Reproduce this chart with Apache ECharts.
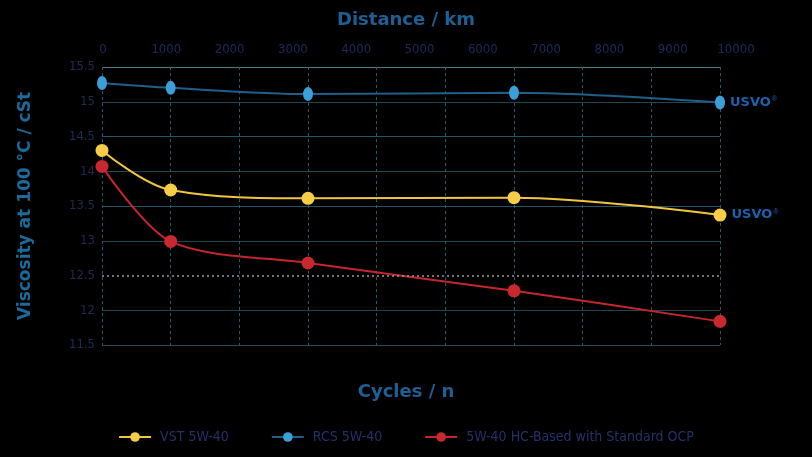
<!DOCTYPE html>
<html><head><meta charset="utf-8">
<script src="https://cdn.jsdelivr.net/npm/echarts@6/dist/echarts.min.js"></script>
<style>html,body{margin:0;padding:0;background:#000;}#c{width:812px;height:457px;}</style>
</head><body><div id="c"></div>
<script>
const cycles = [0, 1, 3, 6, 9];
const vst = [14.30, 13.73, 13.61, 13.62, 13.37];
const rcs = [15.27, 15.20, 15.11, 15.13, 14.99];
const hc = [14.07, 12.99, 12.68, 12.28, 11.84];
const seriesNames = ['VST 5W-40', 'RCS 5W-40', '5W-40 HC-Based with Standard OCP'];
const refLevel = 12.5;

const pair = (ys) => cycles.map((c, i) => [c, ys[i]]);
const thin = "'Liberation Sans Narrow','DejaVu Sans Condensed',sans-serif";
const bold = "'DejaVu Sans',sans-serif";
const logoLabel = {
  show: true, position: 'right', distance: 5,
  formatter: '{a|USVO}{b|®}',
  rich: {
    a: {color: '#1d62b0', fontFamily: bold, fontWeight: 'bold', fontSize: 13},
    b: {color: '#1d62b0', fontSize: 7, verticalAlign: 'top', padding: [0,0,6,1]}
  }
};
function withLogo(ys) {
  const d = pair(ys);
  d[d.length - 1] = {value: d[d.length - 1], label: logoLabel};
  return d;
}

const chart = echarts.init(document.getElementById('c'), null, {renderer: 'canvas'});
chart.setOption({
  backgroundColor: '#000',
  animation: false,
  title: [
    {text: 'Distance / km', left: 'center', top: 6,
     textStyle: {color: '#1f5f94', fontFamily: bold, fontWeight: 'bold', fontSize: 18}},
    {text: 'Cycles / n', left: 'center', top: 378,
     textStyle: {color: '#1f5f94', fontFamily: bold, fontWeight: 'bold', fontSize: 18}}
  ],
  legend: {
    bottom: 8, left: 'center', itemWidth: 32, itemHeight: 12, itemGap: 42,
    textStyle: {color: '#25306a', fontFamily: thin, fontSize: 14, padding: [0, 0, 0, 4]},
    data: seriesNames
  },
  grid: [
    {left: 102, right: 92, top: 67, bottom: 112},
    {left: 103, width: 633, top: 67, bottom: 112}
  ],
  xAxis: [
    {type: 'value', gridIndex: 0, min: 0, max: 9, interval: 1,
     axisLine: {show: false}, axisTick: {show: false}, axisLabel: {show: false},
     splitLine: {show: true, lineStyle: {color: '#2f5566', type: [3, 3], width: 1}}},
    {type: 'value', gridIndex: 1, position: 'top', min: 0, max: 10000, interval: 1000,
     axisLine: {show: false}, axisTick: {show: false}, splitLine: {show: false},
     axisLabel: {color: '#1f2a5c', fontFamily: thin, fontSize: 13, margin: 11,
       formatter: (v) => String(v)}}
  ],
  yAxis: [
    {type: 'value', gridIndex: 0, min: 11.5, max: 15.5, interval: 0.5,
     name: 'Viscosity at 100 °C / cSt', nameLocation: 'middle', nameGap: 68,
     nameTextStyle: {color: '#1c6a9c', fontFamily: bold, fontWeight: 'bold', fontSize: 17},
     axisLine: {show: false}, axisTick: {show: false},
     axisLabel: {color: '#222a50', fontFamily: thin, fontSize: 13, margin: 7},
     splitLine: {show: true, lineStyle: {width: 1,
       color: ['#2b4a58', '#1d4656', 'rgba(0,0,0,0)', '#1d4656', '#24566a', '#1d4656', '#24566a', '#1d4656', '#4f7a8c']}}},
    {type: 'value', gridIndex: 1, show: false, min: 0, max: 1}
  ],
  series: [
    {name: seriesNames[2], type: 'line', smooth: 0.3, xAxisIndex: 0, yAxisIndex: 0,
     data: pair(hc), symbol: 'circle', symbolSize: 13, z: 3,
     lineStyle: {color: '#c4262c', width: 2}, itemStyle: {color: '#c8282e'},
     markLine: {silent: true, symbol: 'none', label: {show: false},
       lineStyle: {color: '#9a9a9a', type: [2, 3], width: 1.5},
       data: [{yAxis: refLevel}]}},
    {name: seriesNames[0], type: 'line', smooth: 0.35, xAxisIndex: 0, yAxisIndex: 0,
     data: withLogo(vst), symbol: 'circle', symbolSize: 13, z: 4,
     lineStyle: {color: '#f0c640', width: 2}, itemStyle: {color: '#f7cd47'}},
    {name: seriesNames[1], type: 'line', smooth: 0.3, xAxisIndex: 0, yAxisIndex: 0,
     data: withLogo(rcs), symbol: 'circle', symbolSize: [10, 14], z: 5,
     lineStyle: {color: '#1f5f8a', width: 2}, itemStyle: {color: '#3c9fd8'}}
  ]
});
</script></body></html>
